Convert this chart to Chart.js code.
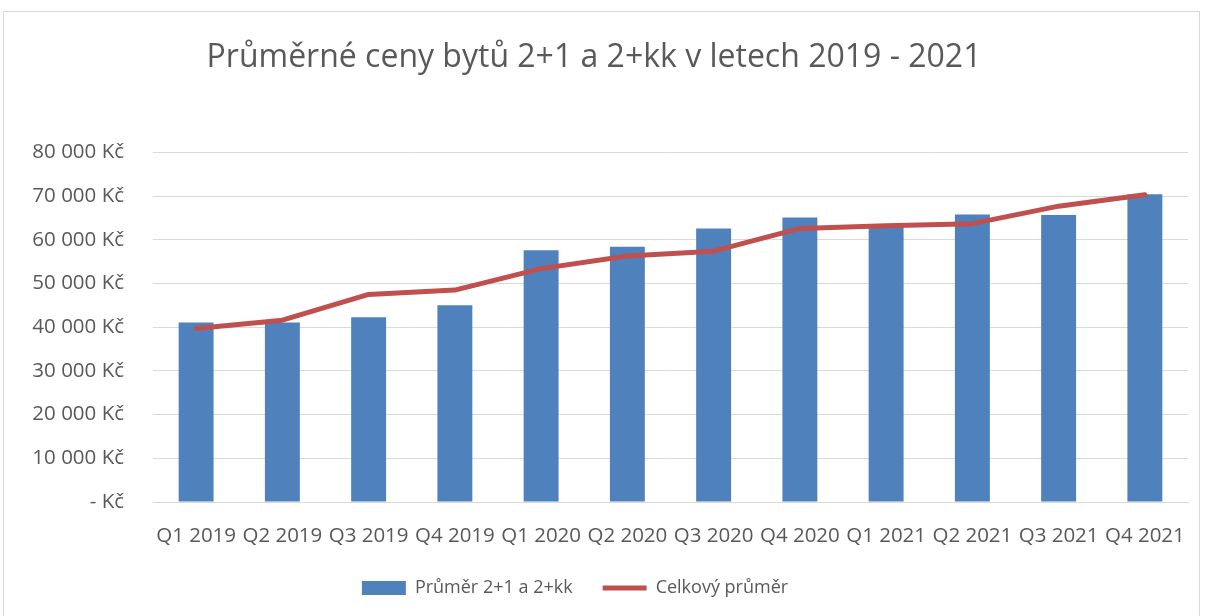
<!DOCTYPE html>
<html lang="cs">
<head>
    <meta charset="UTF-8">
    <title>Průměrné ceny bytů</title>
    <script src="https://cdn.jsdelivr.net/npm/chart.js"></script>
    <style>
        * {
            margin: 0;
            padding: 0;
            box-sizing: border-box;
        }

        body {
            background-color: #ffffff;
            width: 1208px;
            height: 616px;
            overflow: hidden;
            position: relative;
        }

        .frame {
            position: absolute;
            left: 3px;
            top: 11px;
            width: 1197px;
            height: 700px;
            border: 1px solid #d9d9d9;
        }

        .chart-container {
            position: absolute;
            left: 0;
            top: 0;
            width: 1208px;
            height: 616px;
        }
    </style>
</head>
<body>
    <div class="frame"></div>
    <div class="chart-container">
        <canvas id="priceChart"></canvas>
    </div>

    <script>
        const quarters = ['Q1 2019', 'Q2 2019', 'Q3 2019', 'Q4 2019',
                          'Q1 2020', 'Q2 2020', 'Q3 2020', 'Q4 2020',
                          'Q1 2021', 'Q2 2021', 'Q3 2021', 'Q4 2021'];
        const avgFlats = [41100, 41100, 42300, 45000, 57600, 58400,
                          62600, 65100, 63000, 65800, 65700, 70400];
        const overallAvg = [39700, 41600, 47500, 48500, 53400, 56300,
                            57400, 62600, 63200, 63700, 67700, 70300];

        const textColor = '#595959';
        const fontFamily = "'Open Sans', 'Noto Sans', sans-serif";

        function formatKc(value) {
            if (value === 0) return '- Kč';
            return value.toString().replace(/\B(?=(\d{3})+(?!\d))/g, ' ') + ' Kč';
        }

        // legend sits a bit left of centre in the original
        const legendShift = {
            id: 'legendShift',
            afterLayout(chart) {
                if (chart.legend) {
                    chart.legend.left -= 19;
                    chart.legend.right -= 19;
                }
            }
        };

        const ctx = document.getElementById('priceChart').getContext('2d');

        new Chart(ctx, {
            type: 'bar',
            data: {
                labels: quarters,
                datasets: [{
                    type: 'bar',
                    label: 'Průměr 2+1 a 2+kk',
                    data: avgFlats,
                    backgroundColor: '#4f81bd',
                    barPercentage: 0.405,
                    categoryPercentage: 1,
                    order: 2
                }, {
                    type: 'line',
                    label: 'Celkový průměr',
                    data: overallAvg,
                    borderColor: '#c0504d',
                    backgroundColor: '#c0504d',
                    borderWidth: 5,
                    borderCapStyle: 'round',
                    borderJoinStyle: 'round',
                    pointRadius: 0,
                    tension: 0,
                    order: 1
                }]
            },
            plugins: [legendShift],
            options: {
                responsive: true,
                maintainAspectRatio: false,
                animation: false,
                layout: {
                    padding: { left: 0, right: 20, top: 0, bottom: 9 }
                },
                scales: {
                    x: {
                        afterFit: function (scale) {
                            // keep the axis compact so the legend gap stays wide
                            scale.height = 47;
                        },
                        grid: { display: false, drawTicks: false },
                        border: { display: true, color: '#d9d9d9', width: 1 },
                        ticks: {
                            color: textColor,
                            font: { family: fontFamily, size: 20.5 },
                            maxRotation: 0,
                            autoSkip: false,
                            padding: 22
                        }
                    },
                    y: {
                        min: 0,
                        max: 80000,
                        afterFit: function (scale) {
                            scale.width = 153;
                        },
                        grid: { color: '#d9d9d9', lineWidth: 1, drawTicks: false },
                        border: { display: false },
                        ticks: {
                            stepSize: 10000,
                            color: textColor,
                            font: { family: fontFamily, size: 20.5 },
                            padding: 29,
                            callback: function (value) {
                                return formatKc(value);
                            }
                        }
                    }
                },
                plugins: {
                    title: {
                        display: true,
                        text: 'Průměrné ceny bytů 2+1 a 2+kk v letech 2019 - 2021',
                        color: textColor,
                        font: { family: fontFamily, size: 32, weight: 'normal' },
                        padding: { top: 39, bottom: 75 }
                    },
                    legend: {
                        position: 'bottom',
                        labels: {
                            color: textColor,
                            font: { family: fontFamily, size: 18 },
                            usePointStyle: true,
                            pointStyleWidth: 44,
                            boxHeight: 14,
                            padding: 30,
                            sort: function (a, b) {
                                return a.datasetIndex - b.datasetIndex;
                            },
                            generateLabels: function (chart) {
                                const items = Chart.defaults.plugins.legend.labels.generateLabels(chart);
                                items.forEach(function (item) {
                                    const ds = chart.data.datasets[item.datasetIndex];
                                    item.pointStyle = ds.type === 'line' ? 'line' : 'rect';
                                    item.fontColor = textColor;
                                });
                                return items;
                            }
                        }
                    },
                    tooltip: { enabled: false }
                }
            }
        });
    </script>
</body>
</html>
